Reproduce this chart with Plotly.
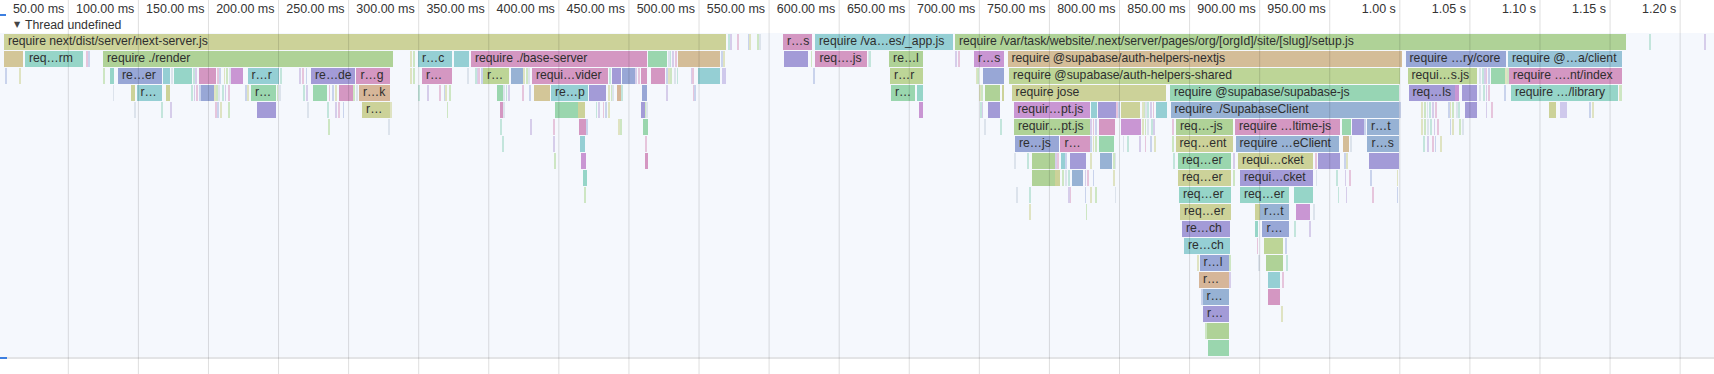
import plotly.graph_objects as go

# ---------------- layout constants (pixels) ----------------
W, H = 1714, 374
PX_PER_MS = 1.4016
ZERO_PX = -1.78
ROW_PX = 17.0
ROW0_CENTER_PX = 41.8
BAR_PX = 16.3
SLIVER_MS = 0.7
TEXT_PAD_PX = 4
FLAME_TOP_PX, FLAME_BOTTOM_PX = 33, 357

# ---------------- data ----------------
tick_ms = [50, 100, 150, 200, 250, 300, 350, 400, 450, 500, 550, 600, 650, 700,
           750, 800, 850, 900, 950, 1000, 1050, 1100, 1150, 1200]
tick_text = ["50.00 ms", "100.00 ms", "150.00 ms", "200.00 ms", "250.00 ms", "300.00 ms",
             "350.00 ms", "400.00 ms", "450.00 ms", "500.00 ms", "550.00 ms", "600.00 ms",
             "650.00 ms", "700.00 ms", "750.00 ms", "800.00 ms", "850.00 ms", "900.00 ms",
             "950.00 ms", "1.00 s", "1.05 s", "1.10 s", "1.15 s", "1.20 s"]

frame_depth = [
    0, 0, 0, 0,
    1, 1, 1, 1, 1, 1, 1, 1, 1, 1, 1, 1, 1, 1, 1, 1,
    2, 2, 2, 2, 2, 2, 2, 2, 2, 2, 2, 2, 2, 2, 2, 2, 2, 2, 2, 2, 2, 2, 2, 2, 2,
    3, 3, 3, 3, 3, 3, 3, 3, 3, 3, 3, 3, 3, 3, 3, 3, 3, 3, 3, 3, 3, 3, 3, 3,
    4, 4, 4, 4, 4, 4, 4, 4, 4, 4, 4, 4, 4, 4, 4, 4, 4,
    5, 5, 5, 5, 5, 5, 5, 5, 5, 5,
    6, 6, 6, 6, 6, 6, 6, 6,
    7, 7, 7, 7, 7, 7, 7, 7, 7, 7,
    8, 8, 8, 8, 8, 8,
    9, 9, 9,
    10, 10, 10, 10,
    11, 11, 11,
    12, 12,
    13, 13,
    14, 14,
    15, 15,
    16,
    17,
    18,
]
frame_start_ms = [
    4.1, 559.9, 582.8, 682.6,
    4.1, 19.1, 74.8, 299.5, 325.2, 337.3, 463.6, 485.0, 498.9, 560.6, 583.1, 635.6, 696.2, 720.1, 1004.1, 1077.2,
    79.8, 85.5, 117.9, 125.1, 142.9, 166.1, 177.9, 223.2, 255.6, 302.4, 345.9, 365.9, 380.8, 437.6, 445.4, 458.6, 465.7, 499.6, 516.4, 636.3, 702.3, 721.2, 1005.5, 1065.4, 1077.9,
    94.7, 98.7, 119.4, 145.0, 180.4, 224.6, 243.1, 257.4, 356.2, 382.3, 394.4, 421.5, 441.5, 459.0, 637.0, 655.2, 704.0, 716.2, 723.0, 836.0, 1006.2, 1039.7, 1044.7, 1079.3,
    184.6, 259.6, 358.0, 397.2, 414.0, 458.6, 657.0, 706.5, 724.4, 779.7, 784.7, 801.4, 826.0, 836.4, 1046.5, 1106.1, 1114.3,
    414.7, 460.0, 724.7, 785.4, 801.0, 840.3, 882.4, 958.8, 965.9, 976.6,
    415.1, 725.4, 757.9, 785.7, 840.0, 882.8, 959.8, 976.9,
    415.8, 461.8, 737.9, 758.3, 765.0, 786.1, 841.7, 884.6, 941.3, 978.0,
    416.9, 737.9, 754.0, 765.8, 841.7, 886.0,
    842.4, 886.0, 924.5,
    843.2, 896.7, 900.3, 925.6,
    844.6, 896.7, 902.0,
    846.0, 903.1,
    857.1, 904.5,
    856.7, 906.0,
    859.2, 906.0,
    859.6,
    862.4,
    862.8,
]
frame_end_ms = [
    519.3, 580.6, 681.2, 1161.4,
    17.7, 60.5, 281.7, 323.8, 335.9, 462.9, 476.8, 498.2, 515.3, 577.8, 619.5, 659.8, 717.6, 1001.2, 1076.1, 1158.6,
    82.6, 116.9, 122.2, 138.3, 155.7, 174.6, 200.3, 254.9, 279.5, 323.8, 364.4, 374.4, 435.1, 444.0, 454.3, 463.2, 475.4, 515.3, 519.3, 659.8, 717.6, 1000.1, 1055.1, 1074.7, 1158.6,
    97.6, 116.9, 122.2, 153.6, 198.2, 234.6, 253.1, 279.5, 360.1, 393.7, 420.8, 433.6, 444.3, 463.2, 654.1, 659.8, 714.7, 717.6, 833.5, 999.4, 1039.4, 1042.2, 1055.4, 1155.7,
    198.2, 279.2, 360.1, 414.0, 419.0, 461.1, 659.8, 714.4, 779.0, 784.0, 797.5, 814.6, 833.9, 999.1, 1055.4, 1111.4, 1119.3,
    419.4, 463.6, 779.0, 797.1, 815.0, 881.0, 957.3, 965.2, 974.1, 999.1,
    419.0, 756.5, 778.6, 796.4, 881.0, 956.6, 963.7, 999.1,
    419.4, 463.6, 754.0, 761.2, 776.4, 794.3, 879.9, 938.4, 957.0, 999.1,
    420.1, 754.0, 757.6, 774.3, 879.9, 938.4,
    879.9, 920.9, 938.4,
    879.9, 899.9, 920.9, 935.6,
    878.9, 898.8, 920.6,
    878.9, 917.0,
    878.1, 917.0,
    877.8, 914.5,
    877.8, 914.5,
    877.8,
    877.8,
    877.8,
]
frame_hue = [
    "olive", "pink", "teal", "green",
    "khaki", "aqua", "green", "teal", "teal", "pink", "mgreen", "tan", "tan", "purple", "pink", "green", "orchid", "tan", "blue", "sky",
    "aqua", "blue", "teal", "aqua", "pink", "orchid", "teal", "purple", "pink", "pink", "ygreen", "steel", "pink", "purple", "blue", "pink", "pink", "teal", "lpurple", "ygreen", "blue", "ygreen", "ygreen", "mgreen", "pink",
    "olive", "teal", "olive", "blue", "mgreen", "mgreen", "pink", "peach", "mgreen", "khaki", "teal", "purple", "peach", "blue", "mgreen", "aqua", "green", "olive", "olive", "mint", "purple", "orchid", "purple", "aqua",
    "purple", "olive", "pink", "mgreen", "olive", "purple", "orchid", "purple", "orchid", "teal", "purple", "olive", "teal", "steel", "purple", "olive", "lpurple",
    "pink", "mgreen", "green", "pink", "orchid", "green", "pink", "mgreen", "purple", "steel",
    "teal", "blue", "pink", "mgreen", "olive", "steel", "tan", "steel",
    "orchid", "pink", "green", "teal", "purple", "steel", "mgreen", "olive", "purple", "purple",
    "aqua", "green", "olive", "steel", "olive", "purple",
    "aqua", "aqua", "aqua",
    "olive", "olive", "steel", "orchid",
    "purple", "aqua", "blue",
    "teal", "ygreen",
    "blue", "green",
    "peach", "teal",
    "steel", "pink",
    "purple",
    "green",
    "mgreen",
]
frame_label = [
    "require next/dist/server/next-server.js", "r…s", "require /va…es/_app.js",
    "require /var/task/website/.next/server/pages/org/[orgId]/site/[slug]/setup.js",
    "", "req…rm", "require ./render", "r…c", "", "require ./base-server", "", "", "", "", "req….js", "re…l", "r…s",
    "require @supabase/auth-helpers-nextjs", "require …ry/core", "require @…a/client",
    "", "re…er", "", "", "", "", "r…r", "re…de", "r…g", "r…", "r…", "", "requi…vider", "", "", "", "", "", "", "r…r", "",
    "require @supabase/auth-helpers-shared", "requi…s.js", "", "require ….nt/index",
    "", "r…", "", "", "r…", "", "", "r…k", "", "", "re…p", "", "", "", "r…", "", "", "", "require jose",
    "require @supabase/supabase-js", "req…ls", "", "", "require …/library",
    "", "r…", "", "", "", "", "", "", "requir…pt.js", "", "", "", "", "require ./SupabaseClient", "", "", "",
    "", "", "requir…pt.js", "", "", "req…-js", "require …ltime-js", "", "", "r…t",
    "", "re…js", "r…", "", "req…ent", "require …eClient", "", "r…s",
    "", "", "", "", "", "", "req…er", "requi…cket", "", "",
    "", "", "", "", "req…er", "requi…cket",
    "req…er", "req…er", "",
    "req…er", "", "r…t", "",
    "re…ch", "", "r…",
    "re…ch", "",
    "r…l", "",
    "r…", "",
    "r…", "",
    "r…",
    "",
    "",
]

# very short calls, listed per depth (start time in ms)
sliver_ms_by_depth = [
    [520.7, 522.8, 527.8, 535.0, 535.8, 541.4, 543.5, 1177.8, 1217.7],
    [62.9, 64.4, 294.5, 296.6, 477.9, 479.3, 481.4, 482.9, 516.0, 517.8, 579.9, 620.9, 621.6, 683.3, 684.8],
    [5.5, 15.5, 74.8, 123.3, 139.3, 141.1, 156.4, 158.2, 161.1, 163.2, 164.7, 201.4, 215.3, 217.4, 219.6,
     294.5, 296.0, 334.8, 340.2, 341.6, 343.0, 344.5, 375.1, 376.6, 378.3, 436.1, 455.0, 456.8, 476.5,
     478.2, 480.0, 482.2, 484.3, 494.3, 495.7, 581.7, 698.3, 699.0, 1057.2, 1058.7, 1060.1, 1061.5,
     1063.6, 1075.4, 1076.5],
    [81.9, 137.9, 139.7, 141.8, 143.3, 154.3, 155.7, 157.5, 159.7, 161.8, 164.0, 176.1, 178.2, 198.9,
     200.7, 217.8, 220.3, 236.0, 238.5, 240.3, 253.8, 255.3, 300.2, 306.6, 314.8, 318.1, 318.8, 322.3,
     360.8, 362.3, 364.1, 374.4, 379.4, 435.1, 437.2, 438.6, 445.0, 476.5, 496.1, 497.1, 699.8, 701.5,
     1057.2, 1059.4, 1061.5, 1063.6, 1075.0, 1156.4, 1157.8],
    [97.2, 116.5, 122.6, 154.7, 156.8, 158.6, 164.3, 220.7, 234.9, 240.3, 243.1, 246.0, 279.9, 320.2,
     360.5, 426.5, 428.6, 431.5, 433.6, 435.1, 461.6, 462.8, 700.5, 701.9, 798.2, 799.6, 816.1, 817.5,
     818.9, 820.3, 821.8, 823.9, 1000.0, 1015.5, 1017.3, 1019.4, 1021.5, 1023.6, 1025.8, 1034.4,
     1035.8, 1037.9, 1040.1, 1042.2, 1061.5, 1065.1, 1135.3, 1137.5],
    [235.6, 278.8, 358.7, 380.1, 396.2, 419.8, 442.9, 444.0, 704.0, 715.1, 779.3, 781.1, 783.2, 816.1,
     818.2, 820.3, 822.5, 824.6, 837.5, 974.8, 1015.5, 1017.6, 1019.7, 1022.2, 1024.4, 1026.6, 1035.8,
     1037.9, 1042.9, 1044.4],
    [360.1, 396.5, 461.5, 779.3, 781.1, 783.2, 802.5, 805.4, 814.6, 818.2, 821.8, 825.3, 837.8, 964.8,
     1016.6, 1020.1, 1023.0, 1025.1, 1028.7],
    [397.2, 725.4, 734.7, 754.3, 756.1, 761.8, 779.0, 795.4, 796.8, 838.2, 881.0, 939.8, 960.2, 962.3],
    [759.0, 761.2, 763.3, 775.4, 777.5, 781.1, 795.4, 881.0, 940.2, 954.5, 960.9, 963.8, 979.4, 998.0],
    [418.6, 726.2, 736.1, 763.3, 764.7, 775.4, 779.0, 783.2, 796.8, 955.9, 961.6, 980.2, 998.0],
    [736.1, 776.1, 938.4],
    [924.9, 935.9],
    [898.1, 918.4],
    [856.0, 878.8, 899.2, 919.5],
    [878.8, 916.0],
    [858.5],
    [915.3],
    [861.7],
    [],
]

# ---------------- styles ----------------
PALETTE = {
    "olive": "#ccd299", "green": "#afd297", "ygreen": "#bdd597", "mgreen": "#9ad6ae",
    "mint": "#97d5b4", "aqua": "#96d5c8", "teal": "#95cfd4", "sky": "#97c3d7",
    "steel": "#97b2d4", "blue": "#98a7d6", "purple": "#a39bd7", "orchid": "#c996d3",
    "pink": "#d497c2", "tan": "#d4bd98", "khaki": "#d3c698", "peach": "#d6b699",
    "lpurple": "#cfc9ec",
}
SLIVER_COLORS = ["#c3e5dc", "#d6cdea", "#e6c5dc", "#c9d3ec", "#dfe3c2", "#cde6c3", "#dce3ec"]
FONT = "Liberation Sans, Arial, Helvetica, sans-serif"
TEXT_COLOR = "#2e2e2e"

assert len(frame_depth) == len(frame_start_ms) == len(frame_end_ms) == len(frame_hue) == len(frame_label)

x_lo = (0 - ZERO_PX) / PX_PER_MS
x_hi = (W - ZERO_PX) / PX_PER_MS
y_top = -ROW0_CENTER_PX / ROW_PX
y_bot = (H - ROW0_CENTER_PX) / ROW_PX
bar_w = BAR_PX / ROW_PX

fig = go.Figure()

# main frames
fig.add_trace(go.Bar(
    orientation="h",
    y=frame_depth,
    base=frame_start_ms,
    x=[e - s for s, e in zip(frame_start_ms, frame_end_ms)],
    width=bar_w,
    marker=dict(color=[PALETTE[h] for h in frame_hue], line=dict(width=0)),
    hoverinfo="skip",
))

# slivers
s_depth, s_ms = [], []
for d, row in enumerate(sliver_ms_by_depth):
    for m in row:
        s_depth.append(d)
        s_ms.append(m)
fig.add_trace(go.Bar(
    orientation="h",
    y=s_depth,
    base=s_ms,
    x=[SLIVER_MS] * len(s_ms),
    width=bar_w,
    marker=dict(color=[SLIVER_COLORS[i % len(SLIVER_COLORS)] for i in range(len(s_ms))],
                line=dict(width=0)),
    hoverinfo="skip",
))

# labels
pad_ms = TEXT_PAD_PX / PX_PER_MS
lx, ly, lt = [], [], []
for d, s, t in zip(frame_depth, frame_start_ms, frame_label):
    if t:
        lx.append(max(s, x_lo) + pad_ms)
        ly.append(d)
        lt.append(t)
fig.add_trace(go.Scatter(
    x=lx, y=ly, text=lt, mode="text", textposition="middle right",
    textfont=dict(family=FONT, size=12.2, color=TEXT_COLOR),
    hoverinfo="skip", cliponaxis=True,
))

shapes = [
    # flame area background
    dict(type="rect", xref="paper", yref="paper", x0=0, x1=1,
         y0=1 - FLAME_BOTTOM_PX / H, y1=1 - FLAME_TOP_PX / H,
         fillcolor="#f5f8fd", line=dict(width=0), layer="below"),
    # bottom separator
    dict(type="line", xref="paper", yref="paper", x0=0, x1=1,
         y0=1 - (FLAME_BOTTOM_PX + 1) / H, y1=1 - (FLAME_BOTTOM_PX + 1) / H,
         line=dict(color="#e3e4e6", width=2), layer="below"),
    # left blue handles
    dict(type="line", xref="paper", yref="paper", x0=0, x1=6 / W,
         y0=1 - 15 / H, y1=1 - 15 / H, line=dict(color="#3d7fe0", width=2), layer="above"),
    dict(type="line", xref="paper", yref="paper", x0=0, x1=7 / W,
         y0=1 - (FLAME_BOTTOM_PX + 1) / H, y1=1 - (FLAME_BOTTOM_PX + 1) / H,
         line=dict(color="#3d7fe0", width=2), layer="above"),
]
for t in tick_ms:
    shapes.append(dict(type="line", xref="x", yref="paper", x0=t, x1=t, y0=0, y1=1,
                       line=dict(color="rgba(0,0,0,0.13)", width=1), layer="above"))

annotations = [
    dict(text="▼", xref="paper", yref="paper", x=12 / W, y=1 - 24.5 / H,
         xanchor="left", yanchor="middle", showarrow=False,
         font=dict(family="DejaVu Sans", size=8, color="#444")),
    dict(text="Thread undefined", xref="paper", yref="paper", x=23 / W, y=1 - 25 / H,
         xanchor="left", yanchor="middle", showarrow=False,
         font=dict(family=FONT, size=12.3, color="#333")),
]

fig.update_layout(
    width=W, height=H, autosize=False,
    margin=dict(l=0, r=0, t=0, b=0, pad=0),
    paper_bgcolor="white", plot_bgcolor="white",
    barmode="overlay", bargap=0, showlegend=False, hovermode=False,
    shapes=shapes, annotations=annotations,
    xaxis=dict(range=[x_lo, x_hi], side="top", tickvals=tick_ms, ticktext=tick_text,
               ticklabelposition="inside left", ticks="", showgrid=False, zeroline=False,
               showline=False, fixedrange=True, ticklabelshift=-4, ticklabelstandoff=-2,
               tickfont=dict(family=FONT, size=12.5, color="#333")),
    yaxis=dict(range=[y_bot, y_top], visible=False, showgrid=False, zeroline=False,
               fixedrange=True),
)

fig.write_html("out.html", include_plotlyjs=True, full_html=True,
               config={"displayModeBar": False},
               post_script="document.body.style.margin='0';")
